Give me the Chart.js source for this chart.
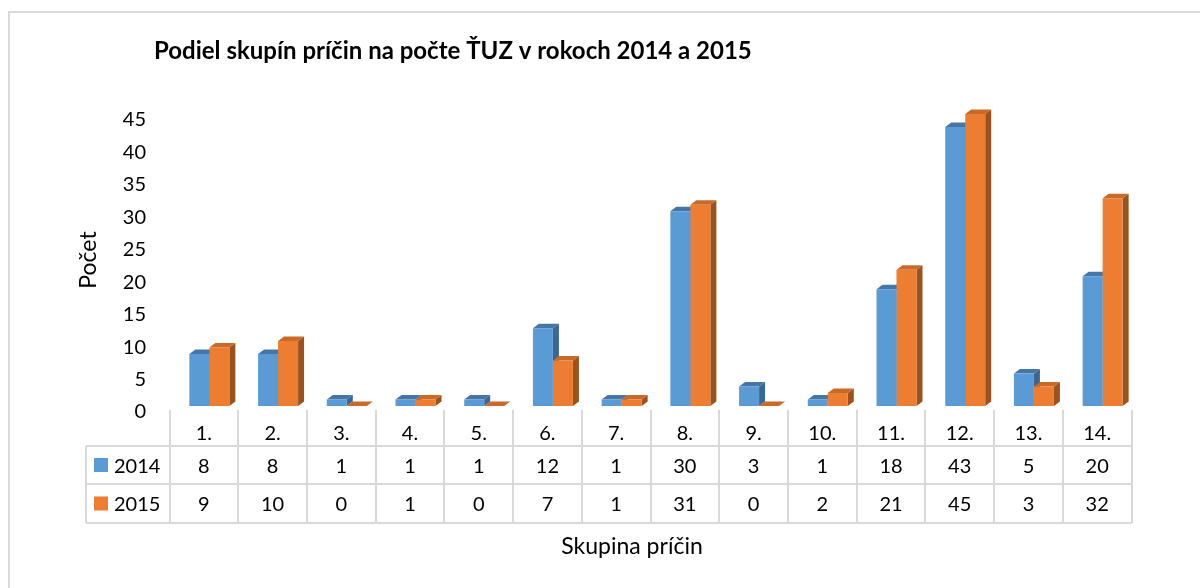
<!DOCTYPE html>
<html>
<head>
<meta charset="utf-8">
<script src="https://cdn.jsdelivr.net/npm/chart.js@4"></script>
<style>
    html, body { margin: 0; padding: 0; background: #fff; }
    #wrap { width: 1200px; height: 588px; position: relative; }
</style>
</head>
<body>
<div id="wrap"><canvas id="chart" width="1200" height="588"></canvas></div>
<script>
// data
const categories = ['1.', '2.', '3.', '4.', '5.', '6.', '7.', '8.', '9.', '10.', '11.', '12.', '13.', '14.'];
const seriesNames = ['2014', '2015'];
const values2014 = [8, 8, 1, 1, 1, 12, 1, 30, 3, 1, 18, 43, 5, 20];
const values2015 = [9, 10, 0, 1, 0, 7, 1, 31, 0, 2, 21, 45, 3, 32];
const yTicks = [0, 5, 10, 15, 20, 25, 30, 35, 40, 45];

const FONT = 'Lato, "Open Sans", sans-serif';
const faceColors = [
    { front: '#5B9BD5', top: '#4676A6', side: '#3C6793' },
    { front: '#ED7D31', top: '#C96A28', side: '#9C521C' }
];
const DEPTH_X = 6, DEPTH_Y = 4.5;
const TABLE_SHIFT = -5.5;   // table columns sit slightly left of the bars (3D perspective)

// side and top faces of the 3D columns, drawn before the fronts
const columns3d = {
    id: 'columns3d',
    beforeDatasetsDraw(chart) {
        const ctx = chart.ctx;
        ctx.save();
        chart.data.datasets.forEach((ds, di) => {
            const meta = chart.getDatasetMeta(di);
            const c = faceColors[di];
            meta.data.forEach(bar => {
                const l = bar.x - bar.width / 2, r = bar.x + bar.width / 2;
                const t = bar.y, b = bar.base;
                // side
                ctx.fillStyle = c.side;
                ctx.beginPath();
                ctx.moveTo(r, b);
                ctx.lineTo(r + DEPTH_X, b - DEPTH_Y);
                ctx.lineTo(r + DEPTH_X, t - DEPTH_Y);
                ctx.lineTo(r, t);
                ctx.closePath();
                ctx.fill();
                // top
                ctx.fillStyle = c.top;
                ctx.beginPath();
                ctx.moveTo(l, t);
                ctx.lineTo(r, t);
                ctx.lineTo(r + DEPTH_X, t - DEPTH_Y);
                ctx.lineTo(l + DEPTH_X, t - DEPTH_Y);
                ctx.closePath();
                ctx.fill();
            });
        });
        ctx.restore();
    }
};

// frame, title, data table and x axis title
const decorations = {
    id: 'decorations',
    afterDraw(chart) {
        const ctx = chart.ctx;
        const x = chart.scales.x;
        const colW = x.width / categories.length;
        const left = x.left + TABLE_SHIFT;
        const right = x.right + TABLE_SHIFT;
        const labelLeft = 86;
        const rows = [410, 446, 484, 523];
        ctx.save();

        // outer frame (only top and left edge are inside the picture)
        ctx.strokeStyle = '#D9D9D9';
        ctx.lineWidth = 2;
        ctx.strokeRect(9, 12, 1400, 800);

        // title
        ctx.fillStyle = '#000';
        ctx.font = 'bold 24px ' + FONT;
        ctx.textAlign = 'left';
        ctx.textBaseline = 'alphabetic';
        ctx.fillText('Podiel skupín príčin na počte ŤUZ v rokoch 2014 a 2015', 154, 59);

        // table grid
        ctx.beginPath();
        for (let i = 0; i <= categories.length; i++) {
            const px = Math.round(left + i * colW);
            ctx.moveTo(px, rows[0]);
            ctx.lineTo(px, rows[3]);
        }
        for (let r = 1; r < rows.length; r++) {
            ctx.moveTo(labelLeft, rows[r]);
            ctx.lineTo(right, rows[r]);
        }
        ctx.moveTo(labelLeft, rows[1]);
        ctx.lineTo(labelLeft, rows[3]);
        ctx.stroke();

        // table text
        ctx.fillStyle = '#000';
        ctx.font = '20px ' + FONT;
        ctx.textAlign = 'center';
        const baselines = [440, 472.5, 511];
        const rowValues = [values2014, values2015];
        categories.forEach((cat, i) => {
            const cx = left + (i + 0.5) * colW;
            ctx.fillText(cat, cx, baselines[0]);
            rowValues.forEach((vals, r) => ctx.fillText(String(vals[i]), cx, baselines[r + 1]));
        });

        // series labels with colour keys
        ctx.textAlign = 'left';
        seriesNames.forEach((name, r) => {
            ctx.fillStyle = faceColors[r].front;
            ctx.fillRect(94, baselines[r + 1] - 14.5, 14, 14);
            ctx.fillStyle = '#000';
            ctx.fillText(name, 114, baselines[r + 1]);
        });

        // x axis title
        ctx.font = '23px ' + FONT;
        ctx.textAlign = 'center';
        ctx.fillText('Skupina príčin', 632, 554);
        ctx.restore();
    }
};

const ctx = document.getElementById('chart').getContext('2d');
new Chart(ctx, {
    type: 'bar',
    data: {
        labels: categories,
        datasets: [
            { label: seriesNames[0], data: values2014, backgroundColor: faceColors[0].front },
            { label: seriesNames[1], data: values2015, backgroundColor: faceColors[1].front }
        ]
    },
    options: {
        responsive: false,
        animation: false,
        events: [],
        categoryPercentage: 0.582,
        barPercentage: 1.0,
        layout: { padding: { left: 70, right: 63, top: 114, bottom: 182 } },
        scales: {
            x: { display: false },
            y: {
                min: 0,
                max: 45,
                afterBuildTicks(scale) { scale.ticks = yTicks.map(v => ({ value: v })); },
                afterFit(scale) { scale.width = 105; },
                grid: { display: false, drawTicks: false },
                border: { display: false },
                ticks: {
                    padding: 29,
                    labelOffset: 6,
                    color: '#000',
                    font: { family: FONT, size: 20 }
                },
                title: {
                    display: true,
                    text: 'Počet',
                    color: '#000',
                    font: { family: FONT, size: 23 },
                    padding: { top: 5, bottom: 0 }
                }
            }
        },
        plugins: {
            legend: { display: false },
            tooltip: { enabled: false }
        }
    },
    plugins: [columns3d, decorations]
});
</script>
</body>
</html>
